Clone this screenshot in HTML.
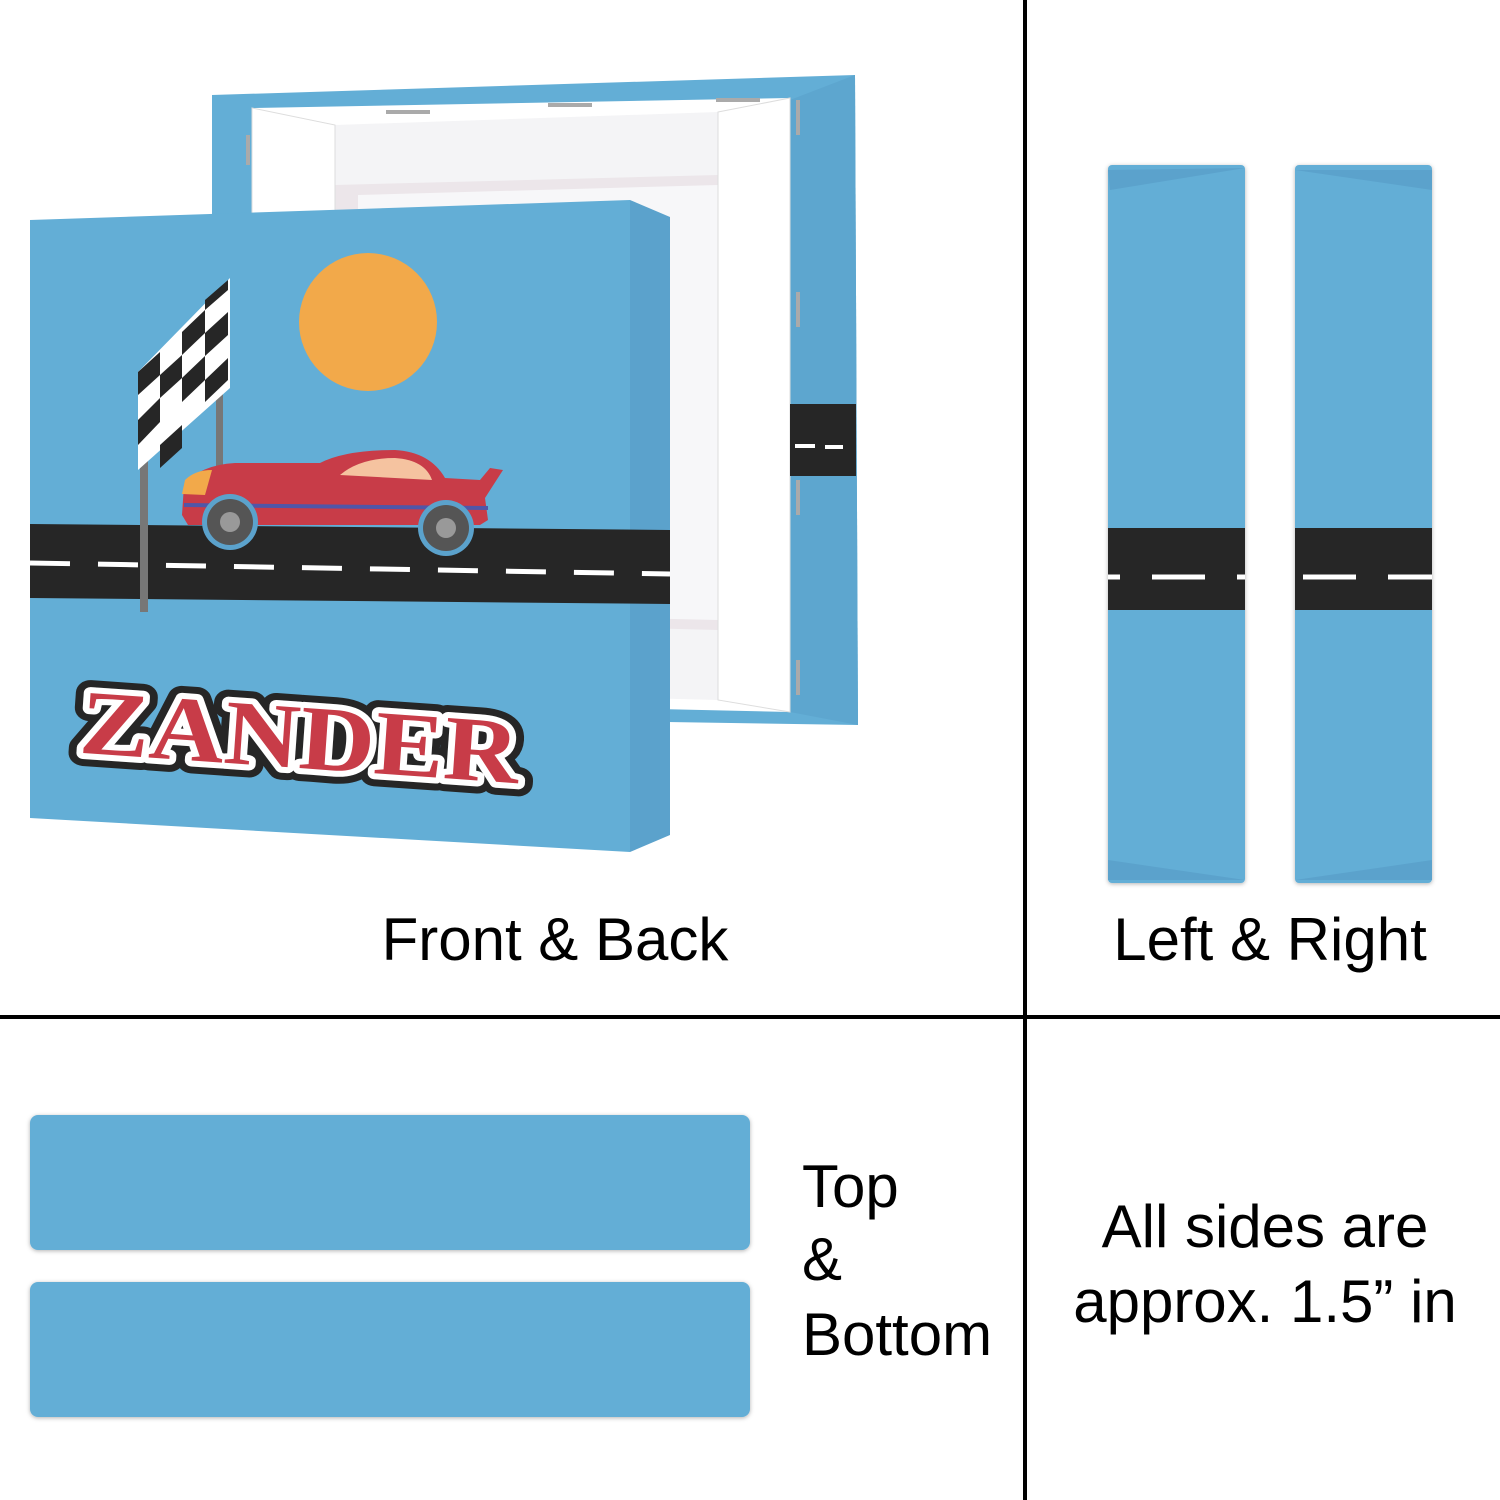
<!DOCTYPE html>
<html><head><meta charset="utf-8"><style>
html,body{margin:0;padding:0;background:#fff;}
svg{display:block}
text{font-family:"Liberation Sans",sans-serif;fill:#000}
text.z{font-family:"Liberation Serif",serif;font-weight:bold}
</style></head><body>
<svg width="1500" height="1500" viewBox="0 0 1500 1500" xmlns="http://www.w3.org/2000/svg">
<defs>
<filter id="sh" x="-5%" y="-10%" width="110%" height="120%"><feDropShadow dx="0" dy="1" stdDeviation="2" flood-color="#000" flood-opacity="0.3"/></filter>
</defs>
<rect x="1023" y="0" width="4" height="1500" fill="#000"/>
<rect x="0" y="1015" width="1500" height="4" fill="#000"/>

<polygon points="212,95 855,75 858,725 212,715" fill="#63aed6"/>
<polygon points="790,100 855,75 858,725 790,712" fill="#5da6cf"/>
<polygon points="252,108 790,98 790,712 252,700" fill="#fff"/>
<polygon points="335,125 718,112 718,700 335,690" fill="#f4f4f6"/>
<polygon points="335,185 718,175 718,630 335,620" fill="#ece6ea"/>
<polygon points="358,195 718,185 718,620 358,612" fill="#f7f7f9"/>
<polygon points="252,108 335,125 335,690 252,700" fill="#fff" stroke="#ddd"/>
<polygon points="718,112 790,98 790,712 718,700" fill="#fff" stroke="#ddd"/>
<rect x="790" y="404" width="66" height="72" fill="#262626"/>
<rect x="795" y="444" width="20" height="4" fill="#fff"/><rect x="825" y="445" width="18" height="4" fill="#fff"/>
<g fill="#aaa"><rect x="386" y="110" width="44" height="4"/><rect x="548" y="103" width="44" height="4"/><rect x="716" y="98" width="44" height="4"/><rect x="796" y="100" width="4" height="35"/><rect x="796" y="292" width="4" height="35"/><rect x="796" y="480" width="4" height="35"/><rect x="796" y="660" width="4" height="35"/><rect x="246" y="135" width="4" height="30"/></g>

<polygon points="630,200 670,217 670,835 630,852" fill="#5ba2cc"/>
<polygon points="30,220 630,200 630,852 30,818" fill="#63aed6"/>
<polygon points="30,524 670,530 670,604 30,598" fill="#262626"/>
<g stroke="#fff" stroke-width="5" stroke-dasharray="40,28"><line x1="30" y1="563" x2="670" y2="574"/></g>
<circle cx="368" cy="322" r="69" fill="#f2a94a"/>
<rect x="140" y="380" width="8" height="232" fill="#777"/>
<rect x="216" y="370" width="7" height="140" fill="#777"/>
<polygon points="138,372 230,278 230,388 138,470" fill="#fff"/>
<g fill="#262626">
<polygon points="138,372 160,352 160,375 138,395"/><polygon points="160,375 182,355 182,378 160,398"/>
<polygon points="182,332 205,310 205,333 182,355"/><polygon points="205,333 228,312 228,335 205,356"/>
<polygon points="138,420 160,398 160,422 138,445"/><polygon points="182,378 205,356 205,380 182,402"/>
<polygon points="160,445 182,425 182,448 160,468"/><polygon points="205,380 228,358 228,380 205,402"/>
<polygon points="205,300 228,280 228,290 205,310"/>
</g>
<path d="M182,515 L184,485 Q200,465 235,463 L320,463 Q345,450 395,450 Q430,452 445,478 L480,480 L490,468 L503,470 L485,498 L488,520 L480,525 L188,525 Z" fill="#c83c48"/>
<path d="M340,475 Q360,458 395,458 Q425,460 432,480 Z" fill="#f5c3a0"/>
<path d="M184,505 L488,508" stroke="#5056a8" stroke-width="4"/>
<path d="M185,480 Q195,470 212,470 L205,495 L182,494 Z" fill="#f2a94a"/>
<circle cx="230" cy="522" r="28" fill="#5ba2cc"/><circle cx="230" cy="522" r="23" fill="#555"/><circle cx="230" cy="522" r="10" fill="#999"/>
<circle cx="446" cy="528" r="28" fill="#5ba2cc"/><circle cx="446" cy="528" r="23" fill="#555"/><circle cx="446" cy="528" r="10" fill="#999"/>
<g transform="rotate(4 300 735)" font-size="92">
<text class="z" x="300" y="768" text-anchor="middle" style="fill:#262626;stroke:#262626;stroke-width:26;stroke-linejoin:round" textLength="440" lengthAdjust="spacingAndGlyphs">ZANDER</text>
<text class="z" x="300" y="768" text-anchor="middle" style="fill:#fff;stroke:#fff;stroke-width:12;stroke-linejoin:round" textLength="440" lengthAdjust="spacingAndGlyphs">ZANDER</text>
<text class="z" x="300" y="768" text-anchor="middle" style="fill:#c83c48" textLength="440" lengthAdjust="spacingAndGlyphs">ZANDER</text>
</g>

<text x="555" y="960" font-size="60" text-anchor="middle">Front &amp; Back</text>

<g filter="url(#sh)">
<rect x="1108" y="165" width="137" height="718" rx="4" fill="#63aed6"/>
<rect x="1295" y="165" width="137" height="718" rx="4" fill="#63aed6"/>
</g>
<g fill="#5ba2cc">
<polygon points="1108,170 1245,168 1110,190"/><polygon points="1108,860 1245,880 1108,880"/>
<polygon points="1295,170 1432,190 1432,170"/><polygon points="1432,860 1295,880 1432,880"/>
</g>
<rect x="1108" y="528" width="137" height="82" fill="#262626"/>
<rect x="1295" y="528" width="137" height="82" fill="#262626"/>
<g stroke="#fff" stroke-width="5"><line x1="1108" y1="577" x2="1120" y2="577"/><line x1="1152" y1="577" x2="1205" y2="577"/><line x1="1237" y1="577" x2="1245" y2="577"/><line x1="1303" y1="577" x2="1356" y2="577"/><line x1="1388" y1="577" x2="1432" y2="577"/></g>
<text x="1270" y="960" font-size="60" text-anchor="middle">Left &amp; Right</text>

<g filter="url(#sh)">
<rect x="30" y="1115" width="720" height="135" rx="8" fill="#63aed6"/>
<rect x="30" y="1282" width="720" height="135" rx="8" fill="#63aed6"/>
</g>
<text x="802" y="1207" font-size="60">Top</text>
<text x="802" y="1280" font-size="60">&amp;</text>
<text x="802" y="1355" font-size="60">Bottom</text>

<text x="1265" y="1247" font-size="60" text-anchor="middle">All sides are</text>
<text x="1265" y="1322" font-size="60" text-anchor="middle">approx. 1.5” in</text>
</svg>
</body></html>
